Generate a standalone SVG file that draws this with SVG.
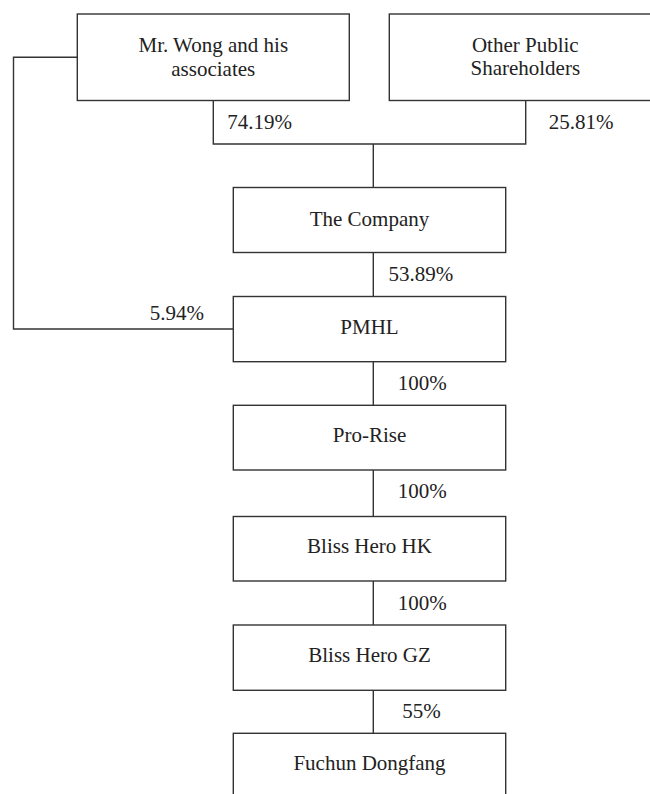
<svg xmlns="http://www.w3.org/2000/svg" width="650" height="794" viewBox="0 0 650 794">
<style>
.box{fill:#fff;stroke:#333;stroke-width:1.4}
.ln{fill:none;stroke:#333;stroke-width:1.4}
.t{font-family:"Liberation Serif","Times New Roman",serif;font-size:21px;fill:#222}
.c{text-anchor:middle}
</style>
<rect width="650" height="794" fill="#fff"/>
<g id="connectors">
<polyline class="ln" points="77,57.3 13.5,57.3 13.5,329 233,329"/>
<polyline class="ln" points="213.3,100.5 213.3,144 525.7,144 525.7,100.5"/>
<line class="ln" x1="373.3" y1="144" x2="373.3" y2="187.5"/>
<line class="ln" x1="373.3" y1="252.5" x2="373.3" y2="296.5"/>
<line class="ln" x1="373.3" y1="361.7" x2="373.3" y2="405.3"/>
<line class="ln" x1="373.3" y1="470" x2="373.3" y2="516.5"/>
<line class="ln" x1="373.3" y1="581" x2="373.3" y2="625"/>
<line class="ln" x1="373.3" y1="690.3" x2="373.3" y2="733.3"/>
<text class="t" x="227.3" y="129.3">74.19%</text>
<text class="t" x="548.7" y="129.3">25.81%</text>
<text class="t" x="388.5" y="281">53.89%</text>
<text class="t" x="149.7" y="320">5.94%</text>
<text class="t" x="397.7" y="390">100%</text>
<text class="t" x="397.7" y="497.7">100%</text>
<text class="t" x="397.7" y="609.7">100%</text>
<text class="t" x="402.3" y="718">55%</text>
</g>
<g id="wong">
<rect class="box" x="77.3" y="14" width="272" height="86.5"/>
<text class="t c" x="213.3" y="52">Mr. Wong and his</text>
<text class="t c" x="213.3" y="75.5">associates</text>
</g>
<g id="public">
<rect class="box" x="389.3" y="14" width="272" height="86.5"/>
<text class="t c" x="525.3" y="52">Other Public</text>
<text class="t c" x="525.3" y="75">Shareholders</text>
</g>
<g id="company">
<rect class="box" x="233.3" y="187.5" width="272.4" height="65"/>
<text class="t c" x="369.5" y="225.5">The Company</text>
</g>
<g id="pmhl">
<rect class="box" x="233.3" y="296.5" width="272.4" height="65.2"/>
<text class="t c" x="369.5" y="334.3">PMHL</text>
</g>
<g id="prorise">
<rect class="box" x="233.3" y="405.3" width="272.4" height="64.7"/>
<text class="t c" x="369.5" y="441.7">Pro-Rise</text>
</g>
<g id="hk">
<rect class="box" x="233.3" y="516.5" width="272.4" height="64.5"/>
<text class="t c" x="369.5" y="552.7">Bliss Hero HK</text>
</g>
<g id="gz">
<rect class="box" x="233.3" y="625" width="272.4" height="65.3"/>
<text class="t c" x="369.5" y="661.7">Bliss Hero GZ</text>
</g>
<g id="fuchun">
<rect class="box" x="233.3" y="733.3" width="272.4" height="100"/>
<text class="t c" x="369.5" y="770">Fuchun Dongfang</text>
</g>
</svg>
